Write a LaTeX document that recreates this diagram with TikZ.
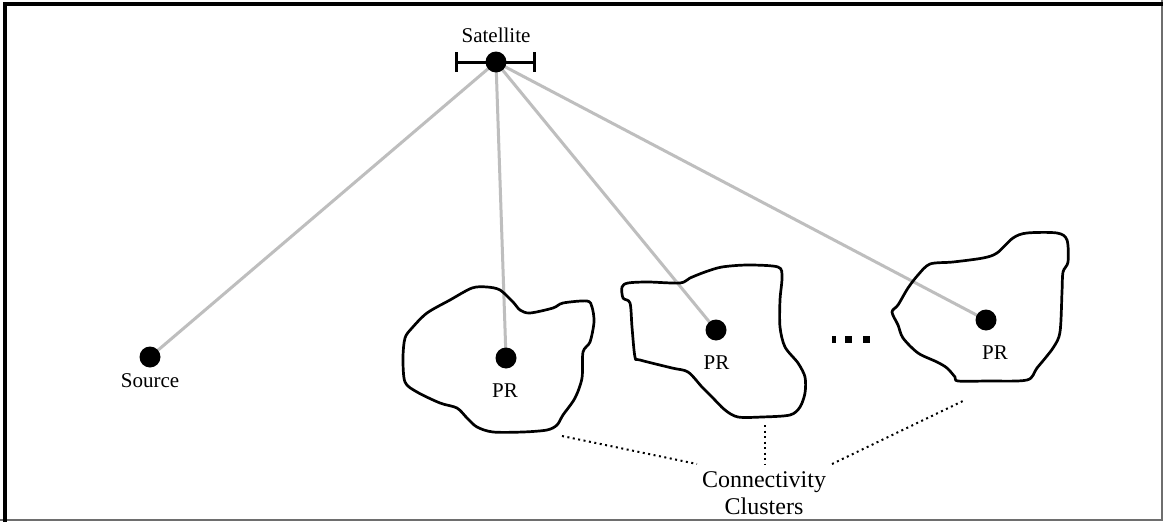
\documentclass[tikz,border=0pt]{standalone}
\usepackage{fontspec}
\setmainfont{Liberation Serif}
\usetikzlibrary{backgrounds}
\definecolor{linkgray}{RGB}{190,190,190}
\definecolor{framegray}{RGB}{110,110,110}
\begin{document}
\begin{tikzpicture}[x=1pt,y=-1pt,
 dot/.style={circle,fill=black,inner sep=0pt,minimum size=21pt},
 link/.style={draw=linkgray,line width=3pt},
 blob/.style={draw=black,line width=2.7pt,line join=round},
 lbl/.style={anchor=base,inner sep=0pt,font=\fontsize{21}{24}\selectfont},
 guide/.style={line width=2pt,dash pattern=on 2pt off 3.5pt}]
\useasboundingbox (0,0) rectangle (1163,522);
% frame
\draw[framegray,line width=2pt] (0,520) -- (1162,520) -- (1162,0);
\draw[black,line width=4pt] (5.3,522) -- (5.3,3.8) -- (1163,3.8);

% blobs
\draw[blob] plot[smooth cycle,tension=0.5] coordinates {
 (472,288) (487,287) (500,290) (513,302) (520,310) (530,313) (553,308) (563,303)
 (587,301) (592,307) (594,322) (590,342) (583,352) (582,378) (575,398) (563,415)
 (557,425) (547,430) (523,432) (493,432) (477,427) (467,418) (457,408) (440,403)
 (417,392) (405,382) (403,358) (405,338) (412,328) (427,313) (450,300)};
\draw[blob] plot[smooth cycle,tension=0.5] coordinates {
 (622,287) (628,283) (648,282) (680,283) (690,278) (705,272) (722,267) (748,265)
 (778,267) (782,277) (780,300) (780,327) (785,347) (798,363) (805,377) (805,393)
 (800,407) (790,415) (762,417) (738,417) (725,410) (712,397) (702,387) (688,372)
 (672,368) (640,360) (635,357) (632,327) (630,303) (623,298)};
\draw[blob] plot[smooth cycle,tension=0.5] coordinates {
 (892,312) (898,305) (908,288) (918,275) (930,264) (953,262) (983,258) (997,253)
 (1013,238) (1027,233) (1057,233) (1067,240) (1068,262) (1063,272) (1062,292)
 (1060,332) (1053,348) (1037,368) (1027,380) (987,381) (958,381) (955,377)
 (947,368) (937,362) (918,353) (903,338) (898,325)};

% satellite
\draw[line width=3pt] (455,62) -- (536,62);
\draw[line width=3pt] (456.5,52) -- (456.5,72);
\draw[line width=3pt] (534.5,52) -- (534.5,72);
\node[dot] (sat) at (496,62) {};
\node[lbl] (satl) at (496,42.7) {Satellite};

% ground nodes
\node[dot] (src) at (150,357) {};
\node[lbl] (srcl) at (150,387) {Source};
\node[dot] (pr1) at (506,358) {};
\node[lbl] (pr1l) at (505,397) {PR};
\node[dot] (pr2) at (716,330) {};
\node[lbl] (pr2l) at (716.5,369) {PR};
\node[dot] (pr3) at (986,320) {};
\node[lbl] (pr3l) at (995,359) {PR};

% links
\begin{scope}[on background layer]
\fill[white] (0,0) rectangle (1163,522);
\draw[link] (sat.center) -- (src.center);
\draw[link] (sat.center) -- (pr1.center);
\draw[link] (sat.center) -- (pr2.center);
\draw[link] (sat.center) -- (pr3.center);
\end{scope}

% ellipsis squares
\fill (832,336) rectangle (836,343);
\fill (845,336) rectangle (852,343);
\fill (863,336) rectangle (870,343);

% label
\node[lbl,font=\fontsize{24}{27}\selectfont] (cc1) at (764,487) {Connectivity};
\node[lbl,font=\fontsize{24}{27}\selectfont] (cc2) at (764,514) {Clusters};
\coordinate (g1a) at (562,436);
\coordinate (g1b) at (697,464);
\coordinate (g2a) at (765,425);
\coordinate (g2b) at (765,464);
\coordinate (g3a) at (965,400);
\coordinate (g3b) at (832,464);
\draw[guide] (g1a) -- (g1b);
\draw[guide] (g2a) -- (g2b);
\draw[guide] (g3b) -- (g3a);
\end{tikzpicture}
\end{document}
